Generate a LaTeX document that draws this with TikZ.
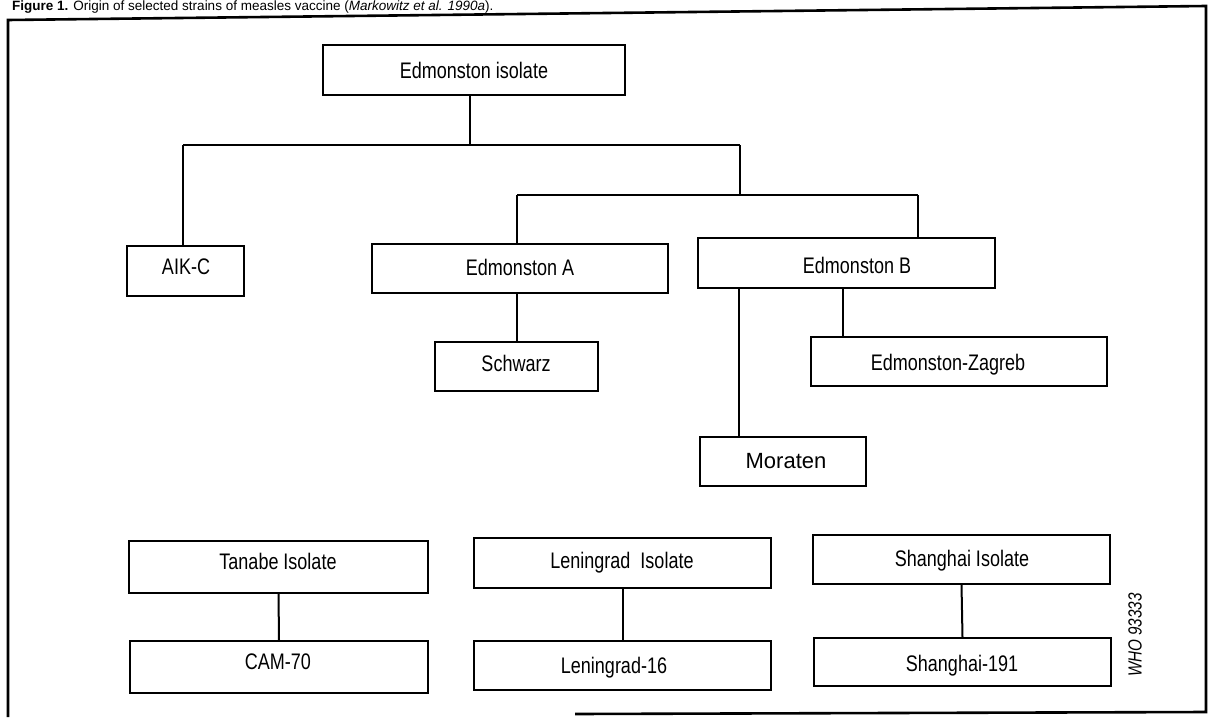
\documentclass[tikz,border=0pt]{standalone}
\usepackage{fontspec}
\setmainfont{Liberation Sans}[FakeStretch=0.8]
\newfontfamily\widefont{Liberation Sans}
\begin{document}
\begin{tikzpicture}[x=1pt,y=-1pt,
  box/.style={draw, line width=1.4pt, rectangle, inner sep=0pt},
  lbl/.style={anchor=base, inner sep=0pt, font=\fontsize{22.5}{25}\selectfont},
  conn/.style={line width=2pt},
  frame/.style={line width=2.6pt}]
\useasboundingbox (0,0) rectangle (1209,717);
% caption
\node[anchor=base west, inner sep=0pt, font=\widefont\fontsize{13.5}{15}\selectfont] (cap) at (12,11)
  {\textbf{Figure 1.} Origin of selected strains of measles vaccine (\textit{Markowitz et al. 1990a}).};
% frame
\draw[frame] (8,717) -- (8,20) -- (1206,6) -- (1206,712) -- (575,714);
% boxes
\node[box, minimum width=302, minimum height=50] (edi) at (474,70) {};
\node[box, minimum width=117, minimum height=50] (aikc) at (185.5,271) {};
\node[box, minimum width=296, minimum height=49] (edA) at (520,268.5) {};
\node[box, minimum width=297, minimum height=50] (edB) at (846.5,263) {};
\node[box, minimum width=163, minimum height=49] (schw) at (516.5,366.5) {};
\node[box, minimum width=296, minimum height=49] (zag) at (959,361.5) {};
\node[box, minimum width=166, minimum height=49] (mor) at (783,461.5) {};
\node[box, minimum width=299, minimum height=52] (tan) at (278.5,567) {};
\node[box, minimum width=298, minimum height=52] (cam) at (279,667) {};
\node[box, minimum width=297, minimum height=50] (lenI) at (622.5,563) {};
\node[box, minimum width=297, minimum height=49] (len16) at (622.5,665.5) {};
\node[box, minimum width=297, minimum height=49] (shI) at (961.5,559.5) {};
\node[box, minimum width=297, minimum height=48] (sh191) at (962.5,662) {};
% texts
\node[lbl] (tedi) at (474,78) {Edmonston isolate};
\node[lbl] (taikc) at (186,274) {AIK-C};
\node[lbl] (tedA) at (520,275) {Edmonston A};
\node[lbl] (tedB) at (857,273) {Edmonston B};
\node[lbl] (tschw) at (516,371) {Schwarz};
\node[lbl] (tzag) at (948,370) {Edmonston-Zagreb};
\node[lbl, font=\widefont\fontsize{22}{24}\selectfont] (tmor) at (786,468) {Moraten};
\node[lbl] (ttan) at (278,569) {Tanabe Isolate};
\node[lbl] (tcam) at (278,669) {CAM-70};
\node[lbl] (tlenI) at (622,568) {Leningrad\ \ Isolate};
\node[lbl] (tlen16) at (614,673) {Leningrad-16};
\node[lbl] (tshI) at (962,566) {Shanghai Isolate};
\node[lbl] (tsh191) at (962,671) {Shanghai-191};
\node[rotate=90, inner sep=0pt, font=\fontsize{19}{21}\selectfont\itshape] (who) at (1135,635) {WHO 93333};
% junction coordinates
\coordinate (j0) at (470,145);
\coordinate (jl) at (183,145);
\coordinate (jr) at (740,145);
\coordinate (j2) at (740,195);
\coordinate (ja) at (517,195);
\coordinate (jb) at (918,195);
\coordinate (kz) at (843,300);
\coordinate (km) at (739,300);
% connectors
\draw[conn] (edi.south -| j0) -- (j0);
\draw[conn] (jl) -- (jr);
\draw[conn] (jl) -- (aikc.north -| jl);
\draw[conn] (jr) -- (j2);
\draw[conn] (ja) -- (jb);
\draw[conn] (ja) -- (edA.north -| ja);
\draw[conn] (jb) -- (edB.north -| jb);
\draw[conn] (edA.south -| ja) -- (schw.north -| ja);
\draw[conn] (edB.south -| kz) -- (zag.north -| kz);
\draw[conn] (edB.south -| km) -- (mor.north -| km);
\draw[conn] (tan.south) -- (cam.north);
\draw[conn] (lenI.south) -- (len16.north);
\draw[conn] (shI.south) -- (sh191.north);
\end{tikzpicture}
\end{document}
